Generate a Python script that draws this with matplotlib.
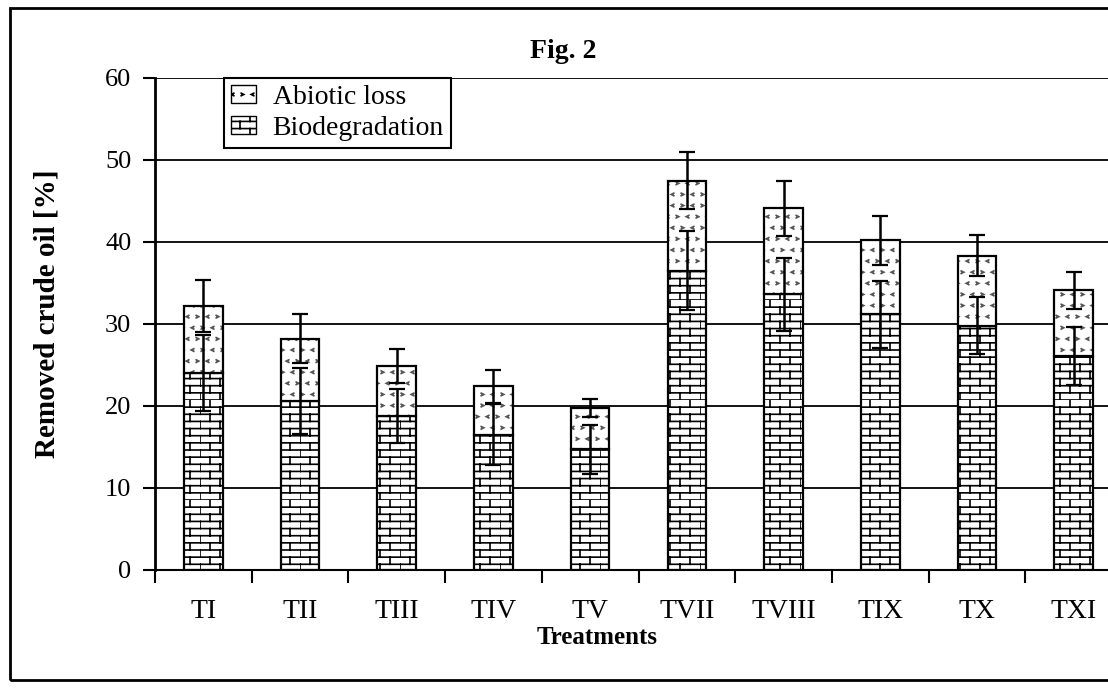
import numpy as np
import matplotlib
matplotlib.use("Agg")
import matplotlib.pyplot as plt
from matplotlib import hatch as mhatch
from matplotlib.path import Path
from matplotlib.patches import Patch, Rectangle

# data
treatments = ["TI", "TII", "TIII", "TIV", "TV", "TVII", "TVIII", "TIX", "TX", "TXI"]
biodegradation = [24.0, 20.6, 18.8, 16.5, 14.7, 36.5, 33.6, 31.2, 29.8, 26.1]
abiotic_loss = [8.2, 7.6, 6.1, 5.9, 5.0, 11.0, 10.5, 9.0, 8.5, 8.0]
bio_err = [4.6, 4.0, 3.3, 3.7, 3.0, 4.8, 4.5, 4.1, 3.5, 3.5]
total_err = [3.2, 3.0, 2.1, 2.0, 1.1, 3.5, 3.4, 3.0, 2.5, 2.3]


# brick hatch (replaces the 'o' pattern)
class Bricks(mhatch.HatchPatternBase):
    def __init__(self, hatch, density):
        self.rows = 14 if 'o' in hatch else 0
        self.cols = 5
        self.num_vertices = self.rows * 2 + self.rows * self.cols * 2

    def set_vertices_and_codes(self, vertices, codes):
        h = 1.0 / self.rows
        k = 0
        for r in range(self.rows):
            y = r * h
            vertices[k] = (0.0, y); codes[k] = Path.MOVETO
            vertices[k+1] = (1.0, y); codes[k+1] = Path.LINETO
            k += 2
            off = 0.5 * (r % 2)
            for j in range(self.cols):
                x = (j + off) / self.cols
                vertices[k] = (x, y); codes[k] = Path.MOVETO
                vertices[k+1] = (x, y + h); codes[k+1] = Path.LINETO
                k += 2


# little < and > marks (replaces the '*' pattern)
class Chevrons(mhatch.HatchPatternBase):
    def __init__(self, hatch, density):
        self.rows = 9 if '*' in hatch else 0
        self.cols = 10
        self.num_vertices = self.rows * self.cols * 3

    def set_vertices_and_codes(self, vertices, codes):
        s = 0.013
        k = 0
        for r in range(self.rows):
            for j in range(self.cols):
                x = (j + 0.5 * (r % 2) + 0.25) / self.cols
                y = (r + 0.5) / self.rows
                d = s if (r + j) % 2 == 0 else -s
                vertices[k] = (x - d, y + s); codes[k] = Path.MOVETO
                vertices[k+1] = (x + d, y); codes[k+1] = Path.LINETO
                vertices[k+2] = (x - d, y - s); codes[k+2] = Path.LINETO
                k += 3


types = list(mhatch._hatch_types)
types[types.index(mhatch.SmallCircles)] = Bricks
types[types.index(mhatch.Stars)] = Chevrons
mhatch._hatch_types = types

plt.rcParams['font.family'] = ['Liberation Serif', 'DejaVu Serif']
plt.rcParams['hatch.linewidth'] = 1.2

W, H = 1108, 688
fig = plt.figure(figsize=(W / 100, H / 100), dpi=100)
ax = fig.add_axes([155 / W, (H - 570) / H, 967 / W, 492 / H])

x = np.arange(len(treatments))
bio = np.array(biodegradation)
abio = np.array(abiotic_loss)
total = bio + abio
wd = 0.4

ax.bar(x, bio, wd, color='white', edgecolor='black', hatch='o', linewidth=1.6, zorder=2)
ax.bar(x, abio, wd, bottom=bio, color='white', edgecolor='#555555', hatch='*', linewidth=0, zorder=2)
ax.bar(x, abio, wd, bottom=bio, fill=False, edgecolor='black', linewidth=1.6, zorder=3)

ax.errorbar(x, bio, yerr=bio_err, fmt='none', ecolor='black', elinewidth=1.8,
            capsize=6, capthick=1.6, zorder=4)
ax.errorbar(x, total, yerr=total_err, fmt='none', ecolor='black', elinewidth=1.8,
            capsize=6, capthick=1.6, zorder=4)

ax.set_ylim(0, 60)
ax.set_xlim(-0.5, len(treatments) - 0.5)
ax.set_yticks(np.arange(0, 61, 10))
ax.yaxis.grid(True, color='black', linewidth=1.3)
ax.set_axisbelow(True)
ax.tick_params(axis='y', labelsize=19, length=9, width=1.5, direction='out', pad=8)

ax.set_xticks(np.arange(len(treatments) + 1) - 0.5)
ax.set_xticklabels([])
ax.tick_params(axis='x', which='major', length=9, width=1.5, direction='out')
ax.set_xticks(x, minor=True)
ax.set_xticklabels(treatments, minor=True)
ax.tick_params(axis='x', which='minor', length=0, labelsize=20, pad=21)

for s in ['top', 'right']:
    ax.spines[s].set_visible(False)
ax.spines['left'].set_linewidth(2)
ax.spines['bottom'].set_linewidth(1.5)

ax.set_ylabel('Removed crude oil [%]', fontsize=21, fontweight='bold')
ax.yaxis.set_label_coords(-0.098, 0.52)
fig.text(597 / W, 1 - 637 / H, 'Treatments', fontsize=18, fontweight='bold',
         ha='center', va='center')
fig.text(563 / W, 1 - 52 / H, 'Fig. 2', fontsize=20, fontweight='bold',
         ha='center', va='center')

handles = [Patch(facecolor='white', edgecolor='black', hatch='*', label='Abiotic loss'),
           Patch(facecolor='white', edgecolor='black', hatch='o', label='Biodegradation')]
leg = ax.legend(handles=handles, loc='upper left', bbox_to_anchor=((224 - 155) / 967, 1.0),
                fontsize=20, fancybox=False, framealpha=1, edgecolor='black',
                handlelength=0.9, handleheight=0.65, handletextpad=0.6,
                borderpad=0.25, labelspacing=0.2, borderaxespad=0)
leg.get_frame().set_linewidth(1.5)

fig.add_artist(Rectangle((10 / W, 8 / H), 1.2, 672 / H, transform=fig.transFigure,
                         fill=False, edgecolor='black', linewidth=2))

fig.savefig('out.png', dpi=100)
